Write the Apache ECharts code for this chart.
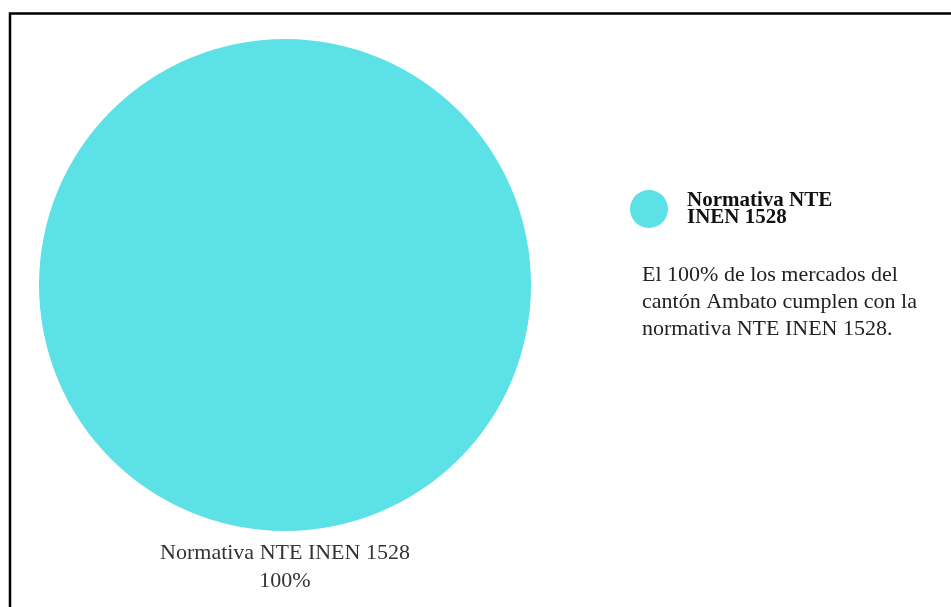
<!DOCTYPE html>
<html>
<head>
<meta charset="utf-8">
<script src="https://cdn.jsdelivr.net/npm/echarts@6/dist/echarts.min.js"></script>
<style>
html,body{margin:0;padding:0;background:#fff;}
#c{width:951px;height:607px;}
</style>
</head>
<body>
<div id="c"></div>
<script>
const categories = ['Normativa NTE INEN 1528'];
const values = [100];
const legendLabel = 'Normativa NTE\nINEN 1528';
const noteLines = ['El 100% de los mercados del', 'cantón Ambato cumplen con la', 'normativa NTE INEN 1528.'];
const colors = ['#5ce1e6'];

const chart = echarts.init(document.getElementById('c'), null, {renderer: 'canvas'});
chart.setOption({
  backgroundColor: '#ffffff',
  animation: false,
  color: colors,
  title: [{
    text: noteLines.join('\n'),
    left: 637,
    top: 257,
    textStyle: {
      fontFamily: 'Liberation Serif',
      fontSize: 22,
      fontWeight: 'normal',
      color: '#222',
      lineHeight: 27
    }
  }, {
    text: categories[0] + '\n' + values[0] + '%',
    left: 280,
    top: 534,
    textAlign: 'center',
    textStyle: {
      fontFamily: 'Liberation Serif',
      fontSize: 22,
      fontWeight: 'normal',
      color: '#333',
      lineHeight: 28
    }
  }],
  legend: {
    orient: 'vertical',
    left: 625,
    top: 185,
    icon: 'circle',
    itemWidth: 38,
    itemHeight: 38,
    itemGap: 10,
    formatter: function () { return legendLabel; },
    textStyle: {
      fontFamily: 'Liberation Serif',
      fontSize: 21,
      fontWeight: 'bold',
      color: '#111',
      lineHeight: 17,
      padding: [0, 0, 0, 14]
    },
    data: categories
  },
  graphic: [{
    type: 'polyline',
    shape: {points: [[10, 607], [10, 13.5], [951, 13.5]]},
    style: {stroke: '#000', lineWidth: 2.5, fill: null}
  }],
  series: [{
    type: 'pie',
    center: [285, 285],
    radius: [0, 246],
    startAngle: 90,
    silent: true,
    data: categories.map((n, i) => ({name: n, value: values[i]})),
    label: {show: false},
    labelLine: {show: false}
  }]
});
</script>
</body>
</html>
